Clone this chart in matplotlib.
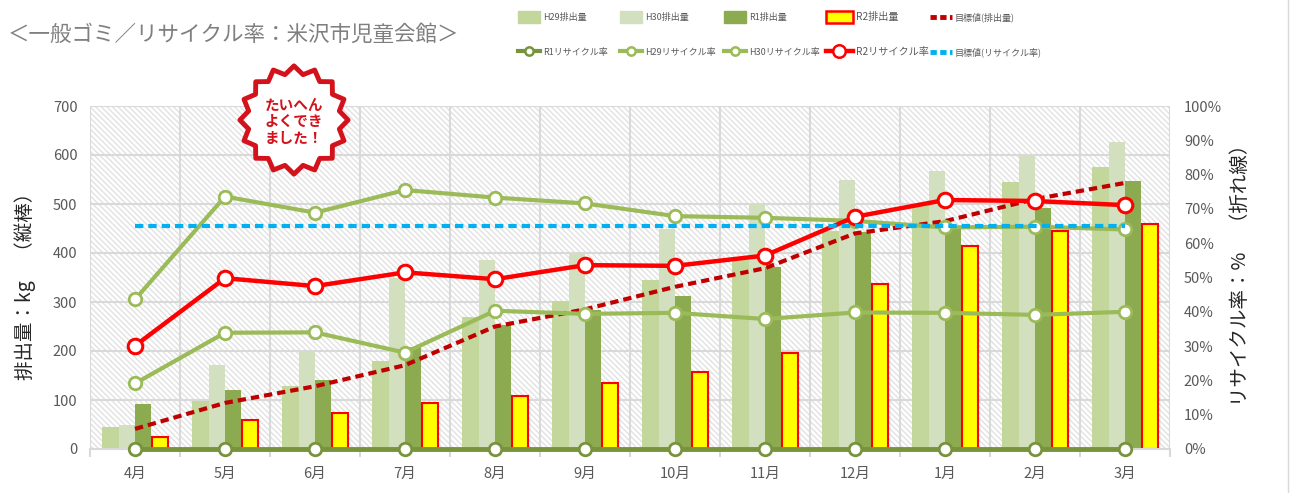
import matplotlib
matplotlib.use('Agg')
import matplotlib.pyplot as plt
from matplotlib.lines import Line2D
from matplotlib.patches import Patch, Rectangle, Polygon
import numpy as np

plt.rcParams['font.family'] = ['Noto Sans CJK JP', 'DejaVu Sans']
plt.rcParams['hatch.color'] = '#e2e2e2'
plt.rcParams['hatch.linewidth'] = 1.0

# ---------------- data ----------------
months = ['4月', '5月', '6月', '7月', '8月', '9月', '10月', '11月', '12月', '1月', '2月', '3月']
h29_kg = [45, 97, 129, 180, 269, 303, 345, 386, 445, 500, 544, 575]
h30_kg = [48, 171, 199, 350, 386, 399, 450, 499, 550, 567, 598, 627]
r1_kg = [92, 120, 140, 208, 253, 284, 312, 372, 443, 451, 491, 547]
r2_kg = [24, 59, 74, 93, 108, 134, 158, 195, 336, 414, 445, 459]
target_kg = [41, 94, 128, 171, 250, 285, 331, 369, 440, 465, 510, 543]

rate_r1 = [0, 0, 0, 0, 0, 0, 0, 0, 0, 0, 0, 0]
rate_h29 = [0.191, 0.339, 0.340, 0.281, 0.403, 0.394, 0.397, 0.379, 0.398, 0.397, 0.391, 0.400]
rate_h30 = [0.436, 0.736, 0.689, 0.755, 0.733, 0.716, 0.679, 0.674, 0.665, 0.646, 0.648, 0.640]
rate_r2 = [0.301, 0.498, 0.475, 0.515, 0.495, 0.536, 0.534, 0.564, 0.677, 0.726, 0.723, 0.711]
target_rate = [0.65] * 12

left_ticks = [0, 100, 200, 300, 400, 500, 600, 700]
right_ticks = [0, 0.1, 0.2, 0.3, 0.4, 0.5, 0.6, 0.7, 0.8, 0.9, 1.0]

# ---------------- styles ----------------
C_H29 = '#c3d69b'
C_H30 = '#d3e0bf'
C_R1 = '#8caa4f'
C_R1L = '#77933c'
C_GL = '#9bbb59'
C_RED = '#ff0000'
C_DRED = '#c00000'
C_CYAN = '#00b0f0'
C_GRID = '#d9d9d9'
C_TXT = '#595959'

W, H = 1291, 493
fig = plt.figure(figsize=(W / 100, H / 100), dpi=100)
ax = fig.add_axes([90 / W, 44 / H, 1080 / W, 343 / H])
ax2 = ax.twinx()

# hatched background
ax.add_patch(Rectangle((0, 0), 1, 1, transform=ax.transAxes, facecolor='white',
                       edgecolor='#e2e2e2', hatch='\\\\\\\\\\\\', lw=0, zorder=0))

x = np.arange(len(months))
w = 0.183
ax.bar(x - 1.5 * w, h29_kg, w, color=C_H29, zorder=2)
ax.bar(x - 0.5 * w, h30_kg, w, color=C_H30, zorder=2)
ax.bar(x + 0.5 * w, r1_kg, w, color=C_R1, zorder=2)
ax.bar(x + 1.5 * w, r2_kg, w * 0.98, color='#ffff00', edgecolor=C_RED, linewidth=1.5, zorder=2)
ax.plot(x, target_kg, color=C_DRED, lw=3, linestyle=(0, (2, 1.2)), zorder=4)

ax.set_xlim(-0.5, 11.5)
ax.set_ylim(0, 700)
ax.set_axisbelow(True)
ax.set_yticks(left_ticks)
ax.set_xticks(x, months)
ax.set_xticks(np.arange(-0.5, 12, 1), minor=True)
ax.grid(which='major', axis='y', color=C_GRID, lw=1.5)
ax.grid(which='minor', axis='x', color=C_GRID, lw=1.5)
ax.grid(which='major', axis='x', visible=False)
ax.tick_params(axis='x', which='major', length=0, pad=13, labelsize=10.5, labelcolor=C_TXT)
ax.tick_params(axis='x', which='minor', length=6, color=C_GRID, width=1.5)
ax.tick_params(axis='y', length=0, pad=9, labelsize=10.5, labelcolor=C_TXT)
for s in ['top', 'left', 'right']:
    ax.spines[s].set_visible(False)
ax.spines['bottom'].set_color(C_GRID)
ax.spines['bottom'].set_linewidth(1.5)

# rates on secondary axis
mk = dict(marker='o', markersize=9, markerfacecolor='white', markeredgewidth=2, clip_on=False)
ax2.plot(x, rate_r1, color=C_R1L, lw=3.5, markeredgecolor=C_R1L, **mk)
ax2.plot(x, rate_h29, color=C_GL, lw=3, markeredgecolor=C_GL, **mk)
ax2.plot(x, rate_h30, color=C_GL, lw=3, markeredgecolor=C_GL, **mk)
ax2.plot(x, rate_r2, color=C_RED, lw=3.2, marker='o', markersize=10.5, markerfacecolor='white',
         markeredgecolor=C_RED, markeredgewidth=2.2, clip_on=False)
ax2.plot(x, target_rate, color=C_CYAN, lw=3, linestyle=(0, (2, 1.2)))
ax2.set_ylim(0, 1)
ax2.set_yticks(right_ticks, [f'{int(round(v * 100))}%' for v in right_ticks])
ax2.tick_params(axis='y', length=0, pad=10, labelsize=10.5, labelcolor=C_TXT)
for s in ax2.spines.values():
    s.set_visible(False)

# axis titles
fig.text(25 / W, 1 - 281 / H, '排出量：kg　（縦棒）', rotation=90, ha='center', va='center',
         fontsize=14, color='#262626')
fig.text(1240 / W, 1 - 270 / H, 'リサイクル率：%　（折れ線）', rotation=90, ha='center', va='center',
         fontsize=14, color='#262626')

# title
fig.text(8 / W, 1 - 35 / H, '＜一般ゴミ／リサイクル率：米沢市児童会館＞', ha='left', va='center',
         fontsize=15.5, color='#7f7f7f')

# legend entries placed individually
def lh(color, ls='-', lw=3, marker=None, ms=7, mec=None):
    return Line2D([], [], color=color, lw=lw, linestyle=ls, marker=marker, markersize=ms,
                  markerfacecolor='white', markeredgecolor=mec or color, markeredgewidth=1.8)

entries = [
    (518, 17, Patch(color=C_H29), 'H29排出量', 6.5, 2.45, 1.5),
    (620, 17, Patch(color=C_H30), 'H30排出量', 6.5, 2.45, 1.5),
    (724, 17, Patch(color=C_R1), 'R1排出量', 6.5, 2.45, 1.5),
    (826, 17, Patch(facecolor='#ffff00', edgecolor=C_RED, linewidth=1.8), 'R2排出量', 7.3, 2.65, 1.4),
    (930, 17, lh(C_DRED, ls=(0, (1.3, 0.7)), lw=3.5), '目標値(排出量)', 6.5, 2.45, 0.7),
    (518, 52, lh(C_R1L, marker='o', ms=6), 'R1リサイクル率', 6.5, 2.45, 0.7),
    (620, 52, lh(C_GL, marker='o', ms=6), 'H29リサイクル率', 6.5, 2.45, 0.7),
    (724, 52, lh(C_GL, marker='o', ms=6), 'H30リサイクル率', 6.5, 2.45, 0.7),
    (826, 52, lh(C_RED, marker='o', ms=9, lw=3.2), 'R2リサイクル率', 7.3, 2.65, 0.7),
    (930, 52, lh(C_CYAN, ls=(0, (1.3, 0.7)), lw=3.5), '目標値(リサイクル率)', 6.5, 2.45, 0.7),
]
for px, py, h, lab, fs, hl, hh in entries:
    leg = fig.legend([h], [lab], loc='center left', bbox_to_anchor=(px / W, 1 - py / H),
                     frameon=False, fontsize=fs, handlelength=hl, handleheight=hh,
                     handletextpad=0.3, borderpad=0, borderaxespad=0)
    for t in leg.get_texts():
        t.set_color(C_TXT)

# badge
bax = fig.add_axes([(294 - 62) / W, 1 - (120 + 62) / H, 124 / W, 124 / H])
bax.set_xlim(-1.1, 1.1)
bax.set_ylim(-1.1, 1.1)
bax.set_aspect('equal')
bax.axis('off')
n = 16
ang = np.linspace(0, 2 * np.pi, 2 * n, endpoint=False) + np.pi / 2
rad = np.where(np.arange(2 * n) % 2 == 0, 0.96, 0.82)
bax.add_patch(Polygon(np.c_[rad * np.cos(ang), rad * np.sin(ang)], closed=True,
                      facecolor='white', edgecolor='#d3121c', lw=3.5, joinstyle='round'))
bax.text(0, -0.02, 'たいへん\nよくでき\nました！', ha='center', va='center', fontsize=10.5,
         color='#d3121c', fontweight='bold', linespacing=1.05)

fig.add_artist(Line2D([1288 / W, 1288 / W], [0, 1], transform=fig.transFigure, color=C_GRID, lw=1))

fig.savefig('out.png', dpi=100)
